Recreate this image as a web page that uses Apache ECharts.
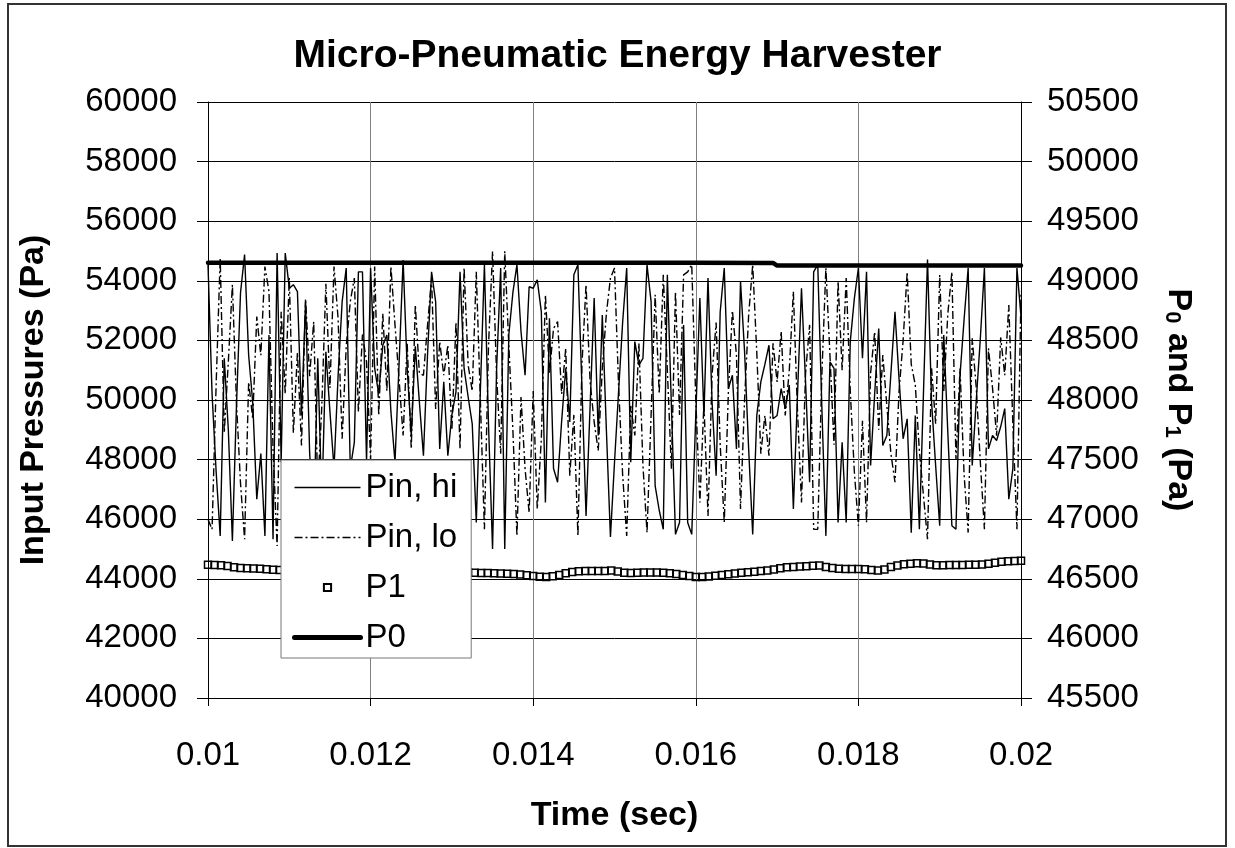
<!DOCTYPE html>
<html>
<head>
<meta charset="utf-8">
<script src="https://cdn.jsdelivr.net/npm/echarts@6/dist/echarts.min.js"></script>
<style>
html, body { margin: 0; padding: 0; background: #fff; }
#frame { position: absolute; left: 7px; top: 3px; width: 1216px; height: 840px; border: 2px solid #333; }
#main { position: absolute; left: 0; top: 0; width: 1235px; height: 848px; }
</style>
</head>
<body>
<div id="frame"></div>
<div id="main"></div>
<script>
// time axis of the pressure samples (sec)
var pinStart = 0.01;
var pinStep = 0.00005;

// Pin, hi (Pa) - solid thin line, left axis
var pinHi = [
    54540, 50200, 47600, 45440, 51400, 49000, 45270, 49800, 53600, 54880,
    51500, 49930, 46670, 48200, 45440, 52180, 45330, 54930, 47910, 54930,
    53750, 53870, 53640, 49480, 53300, 48250, 45780, 51400, 46560, 51620,
    49600, 47700, 50800, 53300, 54430, 47700, 48580, 54300, 54300, 47910,
    54430, 51060, 50200, 51840, 52180, 49600, 47910, 51200, 54700, 51060,
    48810, 51800, 49930, 48130, 51500, 54300, 53300, 48360, 50610, 48130,
    49500, 50270, 54300, 51060, 50100, 49200, 45890, 50300, 54540, 49200,
    45000, 51060, 54430, 45000, 52180, 53600, 54540, 52300, 50830, 53800,
    53750, 54030, 52960, 46560, 52740, 47700, 47240, 49300, 51060, 49260,
    54200, 54540, 50380, 46110, 49800, 53420, 48810, 52850, 49000, 45400,
    47900, 50270, 52600, 54430, 47910, 51960, 51170, 51400, 54540, 53300,
    47120, 46300, 45660, 54200, 49800, 45490, 45890, 52520, 45890, 45490,
    49500, 53420, 49480, 54090, 49930, 47460, 52960, 54430, 50380, 50830,
    48360, 53980, 51620, 48360, 45490, 49480, 50610, 51200, 51840, 49370,
    49480, 50380, 49710, 50500, 46340, 50100, 53750, 50600, 47240, 54300,
    54540, 49800, 45440, 51280, 51060, 45890, 48580, 45890, 51960, 53400,
    54430, 51400, 54300, 47800, 50200, 52400, 48470, 48810, 50900, 52960,
    50700, 48700, 49370, 45550, 49480, 45660, 50200, 54710, 49930, 47800,
    45780, 52180, 48900, 45780, 45660, 50830, 52700, 54430, 47800, 50000,
    52070, 54430, 48360, 48810, 48640, 49100, 49710, 46670, 47700, 54430,
    52800
];

// Pin, lo (Pa) - dash-dot line, left axis
var pinLo = [
    46000, 45660, 50500, 54760, 48900, 51280, 53870, 49930, 47200, 45330,
    50600, 49370, 52800, 51500, 54480, 53640, 48360, 45100, 52960, 50200,
    54100, 48900, 51600, 48470, 53400, 50800, 52630, 47000, 49800, 53900,
    50400, 54480, 52740, 48700, 51800, 53300, 54090, 49600, 52200, 51280,
    48000, 54480, 49480, 52900, 50300, 54480, 52520, 50700, 48810, 51900,
    48360, 53190, 50900, 50830, 52500, 54090, 49700, 51960, 50830, 51840,
    49000, 52600, 48360, 54430, 51170, 50300, 54300, 50000, 45660, 51800,
    54990, 50830, 48200, 54990, 51840, 49000, 45440, 50100, 47690, 46220,
    50300, 46340, 48700, 53530, 50900, 52400, 52630, 50200, 51730, 47460,
    49500, 45440, 51200, 53870, 50600, 49260, 48300, 51060, 52900, 54090,
    54430, 50500, 47500, 45440, 49800, 48810, 51900, 47800, 45550, 49480,
    53530, 50200, 54200, 51000, 47690, 53640, 49500, 54200, 54300, 54540,
    50000, 46560, 49900, 46110, 50830, 52600, 48500, 45890, 50200, 53000,
    51510, 46340, 50000, 52850, 54540, 51600, 48200, 49480, 48130, 51900,
    50610, 52300, 49480, 51000, 53640, 49700, 46560, 50900, 52520, 45660,
    45660, 50800, 54430, 51500, 48500, 53980, 51000, 54090, 50300, 47600,
    45780, 49300, 45890, 50900, 52290, 49000, 51510, 49800, 48200, 47240,
    50300, 52000, 54300, 51200, 50500, 48300, 46800, 45330, 51060, 49200,
    54200, 50300, 52900, 54300, 48000, 51060, 47500, 45550, 52070, 50400,
    47900, 45660, 51730, 50400, 48800, 52100, 50830, 53190, 49200, 45660,
    53640
];

// P1 (Pa) - hollow squares, right axis
var p1Start = 0.01;
var p1Step = 0.00008;
var p1 = [
    46618, 46616, 46614, 46608, 46596, 46590, 46588, 46586, 46584, 46580,
    46576, 46574, 46572, 46570, 46570, 46568, 46568, 46566, 46566, 46564,
    46564, 46562, 46562, 46560, 46560, 46558, 46558, 46558, 46556, 46556,
    46556, 46555, 46555, 46554, 46554, 46554, 46553, 46553, 46552, 46552,
    46552, 46550, 46548, 46548, 46546, 46545, 46542, 46540, 46536, 46530,
    46524, 46518, 46516, 46522, 46532, 46546, 46558, 46564, 46566, 46566,
    46565, 46566, 46570, 46562, 46550, 46548, 46550, 46552, 46552, 46552,
    46550, 46546, 46540, 46532, 46524, 46516, 46516, 46520, 46526, 46532,
    46538, 46544, 46550, 46555, 46560, 46565, 46570, 46578, 46588, 46596,
    46600, 46603, 46606, 46610, 46612, 46600, 46590, 46584, 46582, 46582,
    46582, 46580, 46574, 46570, 46578, 46598, 46612, 46622, 46627, 46630,
    46628, 46620, 46614, 46614, 46615, 46615, 46616, 46617, 46618, 46620,
    46626, 46634, 46642, 46648, 46650, 46652
];

// P0 (Pa) - thick line, right axis
var p0Time = [0.010, 0.012, 0.014, 0.016, 0.01695, 0.0170, 0.018, 0.020];
var p0 = [49152, 49152, 49152, 49151, 49150, 49128, 49128, 49128];

var xTicks = [0.01, 0.012, 0.014, 0.016, 0.018, 0.02];

function pairs(start, step, values) {
    var out = [];
    for (var i = 0; i < values.length; i++) {
        out.push([Math.round((start + i * step) * 1e6) / 1e6, values[i]]);
    }
    return out;
}

var font = 'Liberation Sans';
var myChart = echarts.init(document.getElementById('main'));

var option = {
    animation: false,
    title: {
        text: 'Micro-Pneumatic Energy Harvester',
        left: 'center',
        top: 32,
        textStyle: { fontFamily: font, fontSize: 39, fontWeight: 'bold', color: '#000' }
    },
    legend: {
        orient: 'vertical',
        left: 281,
        top: 460,
        padding: [11, 14, 4, 11],
        itemWidth: 66,
        itemHeight: 9,
        itemGap: 17,
        backgroundColor: '#fff',
        borderColor: '#777',
        borderWidth: 1,
        textStyle: { fontFamily: font, fontSize: 33, color: '#000' },
        data: [
            { name: 'Pin, hi', itemStyle: { opacity: 0 }, lineStyle: { width: 1.4 } },
            { name: 'Pin, lo', itemStyle: { opacity: 0 }, lineStyle: { width: 1.4 } },
            { name: 'P1', lineStyle: { opacity: 0 } },
            { name: 'P0', itemStyle: { opacity: 0 }, lineStyle: { width: 5 } }
        ]
    },
    grid: { left: 208, right: 214, top: 102, bottom: 150 },
    xAxis: {
        type: 'value',
        min: xTicks[0],
        max: xTicks[xTicks.length - 1],
        interval: 0.002,
        name: 'Time (sec)',
        nameLocation: 'middle',
        nameGap: 101,
        nameTextStyle: { fontFamily: font, fontSize: 34, fontWeight: 'bold', color: '#000' },
        axisLine: { lineStyle: { color: '#000', width: 1 } },
        axisTick: { length: 8, lineStyle: { color: '#000' } },
        axisLabel: {
            margin: 41,
            fontFamily: font, fontSize: 33, color: '#000',
            formatter: function (v) { return String(+v.toFixed(3)); }
        },
        splitLine: { show: true, lineStyle: { color: '#808080', width: 1 } }
    },
    yAxis: [{
        type: 'value',
        min: 40000,
        max: 60000,
        interval: 2000,
        name: 'Input Pressures (Pa)',
        nameLocation: 'middle',
        nameGap: 157,
        nameTextStyle: { fontFamily: font, fontSize: 34, fontWeight: 'bold', color: '#000' },
        axisLine: { show: true, lineStyle: { color: '#000', width: 1 } },
        axisTick: { show: true, length: 11, lineStyle: { color: '#000' } },
        axisLabel: { margin: 31, fontFamily: font, fontSize: 33, color: '#000', formatter: function (v) { return String(v); } },
        splitLine: { show: true, lineStyle: { color: '#000', width: 1 } }
    }, {
        type: 'value',
        position: 'right',
        min: 45500,
        max: 50500,
        interval: 500,
        name: '{a|P}{s|0}{a| and P}{s|1}{a| (Pa)}',
        nameLocation: 'middle',
        nameRotate: -90,
        nameGap: 140,
        nameTextStyle: {
            color: '#000',
            rich: {
                a: { fontFamily: font, fontSize: 34, fontWeight: 'bold', color: '#000', lineHeight: 34 },
                s: { fontFamily: font, fontSize: 22, fontWeight: 'bold', color: '#000', verticalAlign: 'bottom', lineHeight: 6 }
            }
        },
        axisLine: { show: true, lineStyle: { color: '#000', width: 1 } },
        axisTick: { show: true, length: 11, lineStyle: { color: '#000' } },
        axisLabel: { margin: 26, fontFamily: font, fontSize: 33, color: '#000', formatter: function (v) { return String(v); } },
        splitLine: { show: false }
    }],
    series: [{
        name: 'Pin, hi',
        type: 'line',
        yAxisIndex: 0,
        symbol: 'none',
        lineStyle: { color: '#000', width: 1.4 },
        itemStyle: { color: '#000' },
        data: pairs(pinStart, pinStep, pinHi)
    }, {
        name: 'Pin, lo',
        type: 'line',
        yAxisIndex: 0,
        symbol: 'none',
        lineStyle: { color: '#000', width: 1.4, type: [8, 3, 2, 3] },
        itemStyle: { color: '#000' },
        data: pairs(pinStart, pinStep, pinLo)
    }, {
        name: 'P1',
        type: 'line',
        yAxisIndex: 1,
        symbol: 'rect',
        symbolSize: 7,
        showSymbol: true,
        showAllSymbol: true,
        lineStyle: { color: '#000', opacity: 0 },
        itemStyle: { color: 'rgba(255,255,255,0)', borderColor: '#000', borderWidth: 1.5 },
        data: pairs(p1Start, p1Step, p1)
    }, {
        name: 'P0',
        type: 'line',
        yAxisIndex: 1,
        symbol: 'none',
        lineStyle: { color: '#000', width: 4.5, cap: 'round' },
        itemStyle: { color: '#000' },
        data: p0Time.map(function (t, i) { return [t, p0[i]]; })
    }]
};

myChart.setOption(option);
</script>
</body>
</html>
